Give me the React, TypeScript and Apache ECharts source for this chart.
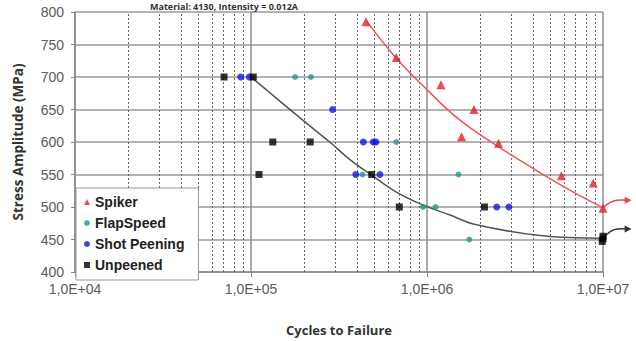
import React, { useEffect, useRef } from "react";
import * as echarts from "echarts";

const titleText = "Material: 4130, Intensity = 0.012A";
const xTickLabels = ["1,0E+04", "1,0E+05", "1,0E+06", "1,0E+07"];
const minorMultipliers = [2, 3, 4, 5, 6, 7, 8, 9];
const decades = [1e4, 1e5, 1e6];

const spiker: [number, number][] = [
  [4.5e5, 785], [6.7e5, 730], [1.2e6, 688], [1.85e6, 650], [1.57e6, 608],
  [2.55e6, 598], [5.8e6, 548], [8.8e6, 537], [1e7, 498],
];
const flapSpeed: [number, number][] = [
  [1.78e5, 700], [2.19e5, 700], [6.7e5, 600], [4.3e5, 550], [1.51e6, 550],
  [9.5e5, 500], [1.12e6, 500], [1.74e6, 450],
];
const shotPeening: [number, number][] = [
  [8.74e4, 700], [9.78e4, 700], [2.91e5, 650], [4.35e5, 600], [4.95e5, 600],
  [5.13e5, 600], [3.94e5, 550], [5.4e5, 550], [2.49e6, 500], [2.92e6, 500],
];
const unpeened: [number, number][] = [
  [7.03e4, 700], [1.03e5, 700], [1.33e5, 600], [2.17e5, 600], [1.11e5, 550],
  [4.85e5, 550], [6.96e5, 500], [2.12e6, 500], [1e7, 455], [1e7, 451], [9.9e6, 447],
];
const spikerFit: [number, number][] = [
  [4.54e5, 786], [6.73e5, 728], [9.96e5, 681], [1.47e6, 638], [2.38e6, 598],
  [4.38e6, 553], [6.78e6, 523], [1e7, 499],
];
const unpeenedFit: [number, number][] = [
  [1e5, 700], [2e5, 632], [2.8e5, 600], [3.65e5, 573], [4.85e5, 549],
  [6.7e5, 523], [9.5e5, 503], [1.34e6, 488], [1.83e6, 474], [4.38e6, 456], [1e7, 452],
];
const spikerRunout: [number, number][] = [[1e7, 499], [1.1e7, 507], [1.2e7, 510.5], [1.38e7, 510.5]];
const unpeenedRunout: [number, number][] = [[1e7, 452], [1.1e7, 462], [1.2e7, 466], [1.38e7, 466]];

const RED = "#e0202c";
const TEAL = "#1f9a8c";
const BLUE = "#1414e6";
const BLACK = "#000000";

export default function App() {
  const ref = useRef<HTMLDivElement>(null);
  useEffect(() => {
    document.body.style.margin = "0";
    const chart = echarts.init(ref.current!, null, { renderer: "svg" });
    const minorXs: number[] = [];
    decades.forEach((d) => minorMultipliers.forEach((m) => minorXs.push(d * m)));
    chart.setOption({
      animation: false,
      title: {
        text: titleText,
        left: 150,
        top: 1,
        padding: 0,
        textStyle: { fontFamily: "Open Sans", fontWeight: "bold", fontSize: 9, lineHeight: 10, color: "#333" },
      },
      grid: { left: 75, right: 33, top: 12, bottom: 62 },
      legend: {
        orient: "vertical",
        left: 76,
        top: 188,
        padding: [7, 14, 8, 8],
        itemGap: 7,
        itemWidth: 6,
        itemHeight: 6,
        backgroundColor: "#ffffff",
        borderColor: "#999",
        borderWidth: 1,
        textStyle: { fontFamily: "Liberation Sans", fontWeight: "bold", fontSize: 14, color: "#222" },
        data: ["Spiker", "FlapSpeed", "Shot Peening", "Unpeened"],
        z: 10,
      },
      xAxis: {
        type: "log",
        logBase: 10,
        min: 1e4,
        max: 1e7,
        name: "Cycles to Failure",
        nameLocation: "middle",
        nameGap: 51,
        nameTextStyle: { fontFamily: "Open Sans", fontWeight: "bold", fontSize: 13, color: "#333" },
        axisLine: { lineStyle: { color: "#888", width: 1.5 } },
        axisTick: { show: true, length: 5, lineStyle: { color: "#888" } },
        axisLabel: {
          margin: 10,
          fontFamily: "Liberation Sans",
          fontSize: 14,
          color: "#5a5a5a",
          formatter: (v: number) => xTickLabels[Math.round(Math.log10(v)) - 4],
        },
        splitLine: { show: true, lineStyle: { color: "#8c8c8c", width: 1.5 } },
      },
      yAxis: {
        type: "value",
        min: 400,
        max: 800,
        interval: 50,
        name: "Stress Amplitude (MPa)",
        nameLocation: "middle",
        nameGap: 50,
        nameTextStyle: { fontFamily: "Open Sans", fontWeight: "bold", fontSize: 13.5, color: "#333" },
        axisLine: { show: true, lineStyle: { color: "#888", width: 1.5 } },
        axisTick: { show: true, length: 4, lineStyle: { color: "#888" } },
        axisLabel: { margin: 11, fontFamily: "Liberation Sans", fontSize: 14, color: "#5a5a5a" },
        splitLine: { show: true, lineStyle: { color: "#9a9a9a", width: 1.5 } },
      },
      series: [
        {
          type: "line",
          data: unpeenedFit,
          smooth: 0.4,
          symbol: "none",
          lineStyle: { color: "#555", width: 1.5 },
          silent: true,
          z: 2,
          markLine: {
            silent: true,
            symbol: "none",
            label: { show: false },
            lineStyle: { color: "#666", type: [2, 2], width: 1 },
            data: minorXs.map((v) => ({ xAxis: v })),
            z: 1,
          },
        },
        {
          type: "line",
          data: spikerFit,
          smooth: 0.4,
          symbol: "none",
          lineStyle: { color: "#ee5555", width: 1.5 },
          silent: true,
          z: 2,
        },
        { name: "Spiker", type: "scatter", data: spiker, symbol: "triangle", symbolSize: 9, itemStyle: { color: RED }, z: 5 },
        { name: "FlapSpeed", type: "scatter", data: flapSpeed, symbol: "circle", symbolSize: 6, itemStyle: { color: TEAL }, z: 5 },
        { name: "Shot Peening", type: "scatter", data: shotPeening, symbol: "circle", symbolSize: 7, itemStyle: { color: BLUE }, z: 5 },
        { name: "Unpeened", type: "scatter", data: unpeened, symbol: "rect", symbolSize: 7, itemStyle: { color: BLACK }, z: 5 },
      ],
    });
    const runout = (data: [number, number][], color: string) => {
      const pts = data.map((p) => chart.convertToPixel({ gridIndex: 0 }, p) as number[]);
      const end = pts[pts.length - 1];
      return [
        {
          type: "polyline",
          shape: { points: pts, smooth: 0.4 },
          style: { stroke: color, lineWidth: 1.5, fill: null },
          silent: true,
          z: 3,
        },
        {
          type: "polygon",
          shape: { points: [[end[0] + 4, end[1]], [end[0] - 3, end[1] - 3.5], [end[0] - 3, end[1] + 3.5]] },
          style: { fill: color },
          silent: true,
          z: 3,
        },
      ];
    };
    chart.setOption({
      graphic: [...runout(spikerRunout, "#e84848"), ...runout(unpeenedRunout, "#333")],
    });
    return () => chart.dispose();
  }, []);
  return <div ref={ref} style={{ width: 636, height: 341 }} />;
}
